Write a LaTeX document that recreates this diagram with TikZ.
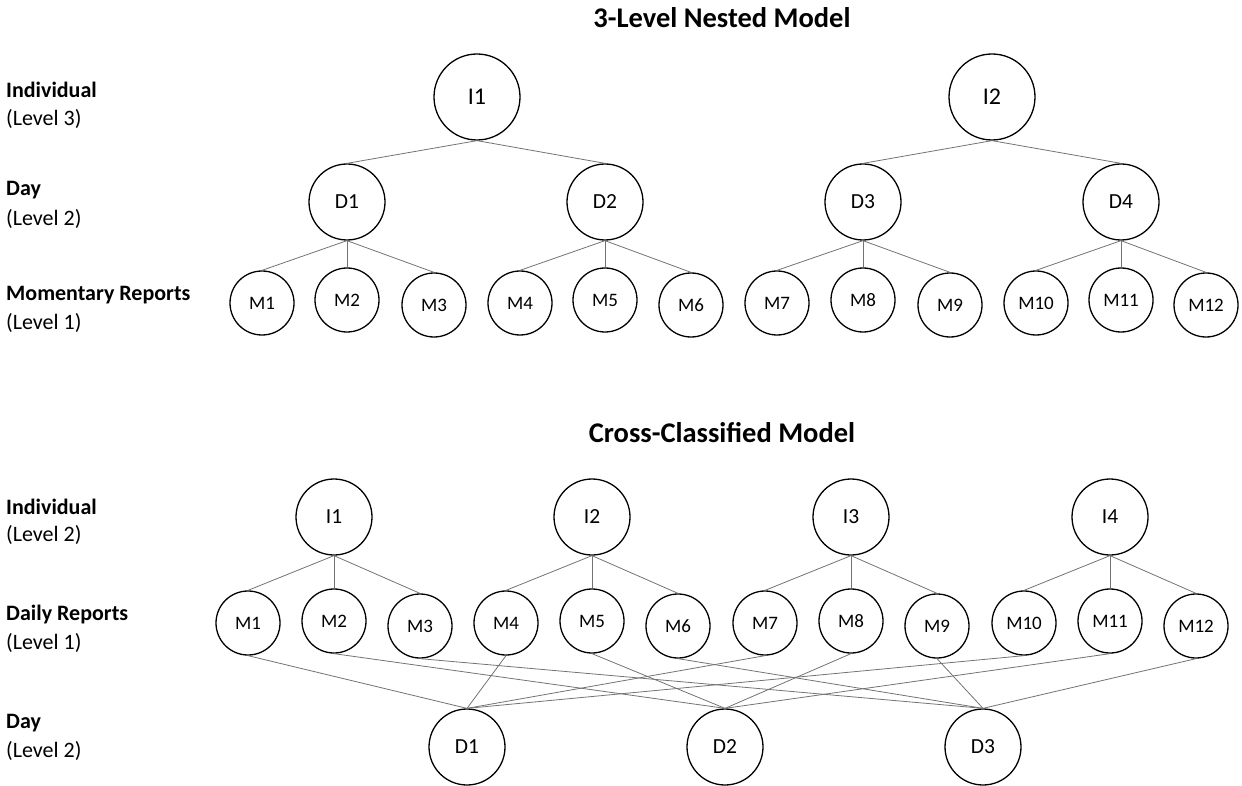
\documentclass[tikz,border=0pt]{standalone}
\usepackage{fontspec}
\setmainfont{Carlito}
\begin{document}
\begin{tikzpicture}[x=1pt,y=-1pt,
  nd/.style={circle,draw,line width=1.3pt,inner sep=0pt},
  big/.style={nd,minimum size=86pt,font=\fontsize{24}{28}\selectfont},
  mid/.style={nd,minimum size=76pt,font=\fontsize{21.5}{25}\selectfont},
  sm/.style={nd,minimum size=64pt,font=\fontsize{19}{22}\selectfont},
  ed/.style={draw=black!55,line width=0.8pt},
  labb/.style={anchor=west,inner sep=0pt,font=\bfseries\fontsize{22}{26}\selectfont},
  labn/.style={anchor=west,inner sep=0pt,font=\fontsize{22}{26}\selectfont},
  ttl/.style={font=\bfseries\fontsize{28.5}{32}\selectfont}]
\useasboundingbox (0,0) rectangle (1242,786);

% ---------- 3-level nested model ----------
\node[ttl] (t1) at (722,18) {3-Level Nested Model};
\node[labb] (a1) at (6,90) {Individual};
\node[labn] (a2) at (6,119) {(Level 3)};
\node[labb] (a3) at (6,190) {Day};
\node[labn] (a4) at (6,219) {(Level 2)};
\node[labb] (a5) at (6,295) {Momentary Reports};
\node[labn] (a6) at (6,323) {(Level 1)};

\node[big] (I1) at (477,97) {I1};
\node[big] (I2) at (992,97) {I2};
\node[mid] (D1) at (347,202) {D1};
\node[mid] (D2) at (605,202) {D2};
\node[mid] (D3) at (863,202) {D3};
\node[mid] (D4) at (1121,202) {D4};
\node[sm] (M1) at (262,303) {M1};
\node[sm] (M2) at (347,300) {M2};
\node[sm] (M3) at (434,305) {M3};
\node[sm] (M4) at (520,303) {M4};
\node[sm] (M5) at (605,300) {M5};
\node[sm] (M6) at (691,305) {M6};
\node[sm] (M7) at (777,303) {M7};
\node[sm] (M8) at (863,300) {M8};
\node[sm] (M9) at (950,305) {M9};
\node[sm] (M10) at (1036,303) {M10};
\node[sm] (M11) at (1121,300) {M11};
\node[sm] (M12) at (1206,305) {M12};

\draw[ed] (I1.south) -- (D1.north);
\draw[ed] (I1.south) -- (D2.north);
\draw[ed] (I2.south) -- (D3.north);
\draw[ed] (I2.south) -- (D4.north);
\draw[ed] (D1.south) -- (M1.north);
\draw[ed] (D1.south) -- (M2.north);
\draw[ed] (D1.south) -- (M3.north);
\draw[ed] (D2.south) -- (M4.north);
\draw[ed] (D2.south) -- (M5.north);
\draw[ed] (D2.south) -- (M6.north);
\draw[ed] (D3.south) -- (M7.north);
\draw[ed] (D3.south) -- (M8.north);
\draw[ed] (D3.south) -- (M9.north);
\draw[ed] (D4.south) -- (M10.north);
\draw[ed] (D4.south) -- (M11.north);
\draw[ed] (D4.south) -- (M12.north);

% ---------- cross-classified model ----------
\node[ttl] (t2) at (722,433) {Cross-Classified Model};
\node[labb] (b1) at (6,507) {Individual};
\node[labn] (b2) at (6,535) {(Level 2)};
\node[labb] (b3) at (6,615) {Daily Reports};
\node[labn] (b4) at (6,643) {(Level 1)};
\node[labb] (b5) at (6,723) {Day};
\node[labn] (b6) at (6,751) {(Level 2)};

\node[mid] (cI1) at (334,517) {I1};
\node[mid] (cI2) at (592,517) {I2};
\node[mid] (cI3) at (851,517) {I3};
\node[mid] (cI4) at (1110,517) {I4};
\node[sm] (cM1) at (248,623) {M1};
\node[sm] (cM2) at (334,621) {M2};
\node[sm] (cM3) at (420,626) {M3};
\node[sm] (cM4) at (506,623) {M4};
\node[sm] (cM5) at (592,621) {M5};
\node[sm] (cM6) at (678,626) {M6};
\node[sm] (cM7) at (765,623) {M7};
\node[sm] (cM8) at (851,621) {M8};
\node[sm] (cM9) at (937,626) {M9};
\node[sm] (cM10) at (1024,623) {M10};
\node[sm] (cM11) at (1110,621) {M11};
\node[sm] (cM12) at (1196,626) {M12};
\node[mid] (cD1) at (467,747) {D1};
\node[mid] (cD2) at (725,747) {D2};
\node[mid] (cD3) at (983,747) {D3};

\draw[ed] (cI1.south) -- (cM1.north);
\draw[ed] (cI1.south) -- (cM2.north);
\draw[ed] (cI1.south) -- (cM3.north);
\draw[ed] (cI2.south) -- (cM4.north);
\draw[ed] (cI2.south) -- (cM5.north);
\draw[ed] (cI2.south) -- (cM6.north);
\draw[ed] (cI3.south) -- (cM7.north);
\draw[ed] (cI3.south) -- (cM8.north);
\draw[ed] (cI3.south) -- (cM9.north);
\draw[ed] (cI4.south) -- (cM10.north);
\draw[ed] (cI4.south) -- (cM11.north);
\draw[ed] (cI4.south) -- (cM12.north);

\draw[ed] (cM1.south) -- (cD1.north);
\draw[ed] (cM4.south) -- (cD1.north);
\draw[ed] (cM7.south) -- (cD1.north);
\draw[ed] (cM10.south) -- (cD1.north);
\draw[ed] (cM2.south) -- (cD2.north);
\draw[ed] (cM5.south) -- (cD2.north);
\draw[ed] (cM8.south) -- (cD2.north);
\draw[ed] (cM11.south) -- (cD2.north);
\draw[ed] (cM3.south) -- (cD3.north);
\draw[ed] (cM6.south) -- (cD3.north);
\draw[ed] (cM9.south) -- (cD3.north);
\draw[ed] (cM12.south) -- (cD3.north);
\end{tikzpicture}
\end{document}
